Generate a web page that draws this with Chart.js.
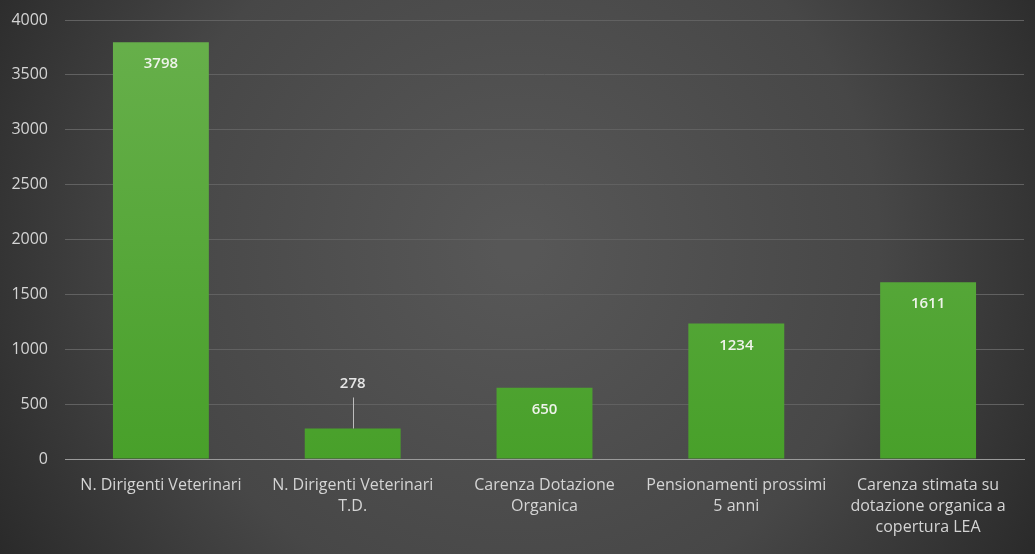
<!DOCTYPE html>
<html>
<head>
<meta charset="utf-8">
<script src="https://cdn.jsdelivr.net/npm/chart.js@4.4.1/dist/chart.umd.min.js"></script>
<style>
html,body{margin:0;padding:0;background:#2a2a2a;}
#wrap{width:1035px;height:554px;position:relative;}
</style>
</head>
<body>
<div id="wrap"><canvas id="c" width="1035" height="554"></canvas></div>
<script>
const categories = [
  ["N. Dirigenti Veterinari"],
  ["N. Dirigenti Veterinari", "T.D."],
  ["Carenza Dotazione", "Organica"],
  ["Pensionamenti prossimi", "5 anni"],
  ["Carenza stimata su", "dotazione organica a", "copertura LEA"]
];
const values = [3798, 278, 650, 1234, 1611];
const yTicks = [0, 500, 1000, 1500, 2000, 2500, 3000, 3500, 4000];

const bgPlugin = {
  id: 'bg',
  beforeDraw(chart) {
    const ctx = chart.ctx, w = chart.width, h = chart.height;
    ctx.save();
    const g = ctx.createRadialGradient(w * 0.5, h * 0.45, 20, w * 0.5, h * 0.45, w * 0.62);
    g.addColorStop(0, '#575757');
    g.addColorStop(0.55, '#474747');
    g.addColorStop(1, '#252525');
    ctx.fillStyle = g;
    ctx.fillRect(0, 0, w, h);
    ctx.restore();
  }
};

const labelPlugin = {
  id: 'labels',
  afterDatasetsDraw(chart) {
    const ctx = chart.ctx;
    const meta = chart.getDatasetMeta(0);
    ctx.save();
    ctx.font = '600 15px "Open Sans"';
    ctx.textAlign = 'center';
    ctx.textBaseline = 'middle';
    meta.data.forEach((el, i) => {
      const v = values[i];
      const hgt = el.base - el.y;
      if (hgt > 45) {
        ctx.fillStyle = '#eef3ea';
        ctx.fillText(String(v), el.x, el.y + 22);
      } else {
        ctx.strokeStyle = '#bdbdbd';
        ctx.lineWidth = 1;
        ctx.beginPath();
        ctx.moveTo(Math.round(el.x) + 0.5, el.y - 31);
        ctx.lineTo(Math.round(el.x) + 0.5, el.y);
        ctx.stroke();
        ctx.fillStyle = '#e6e6e6';
        ctx.fillText(String(v), el.x, el.y - 45);
      }
    });
    ctx.restore();
  }
};

const ctx = document.getElementById('c').getContext('2d');
new Chart(ctx, {
  type: 'bar',
  data: {
    labels: categories,
    datasets: [{
      data: values,
      backgroundColor: (c) => {
        const ch = c.chart;
        const a = ch.chartArea;
        if (!a) return '#5aa83a';
        const g = ch.ctx.createLinearGradient(0, a.top, 0, a.bottom);
        g.addColorStop(0, '#68b04c');
        g.addColorStop(1, '#48a02a');
        return g;
      },
      borderWidth: 0,
      barPercentage: 0.5,
      categoryPercentage: 1.0
    }]
  },
  options: {
    responsive: false,
    animation: false,
    devicePixelRatio: 1,
    layout: { padding: { top: 20, right: 11, left: 1, bottom: 0 } },
    plugins: { legend: { display: false }, tooltip: { enabled: false } },
    scales: {
      x: {
        grid: { display: false, drawTicks: false },
        border: { display: true, color: '#9a9a9a', width: 1 },
        ticks: {
          color: '#d4d4d4',
          font: { family: '"Open Sans"', size: 16, lineHeight: 1.3 },
          padding: 16,
          maxRotation: 0,
          autoSkip: false
        },
        afterFit(s) { s.height = 95; s.paddingLeft = 0; s.paddingRight = 0; }
      },
      y: {
        min: 0, max: 4000,
        afterBuildTicks(s) { s.ticks = yTicks.map(v => ({ value: v })); },
        grid: { color: '#616161', lineWidth: 1, drawTicks: false },
        border: { display: false },
        ticks: {
          color: '#d4d4d4',
          font: { family: '"Open Sans"', size: 16 },
          padding: 17,
          callback: (v) => String(v)
        },
        afterFit(s) { s.width = 64; s.paddingTop = 0; s.paddingBottom = 0; }
      }
    }
  },
  plugins: [bgPlugin, labelPlugin]
});
</script>
</body>
</html>
